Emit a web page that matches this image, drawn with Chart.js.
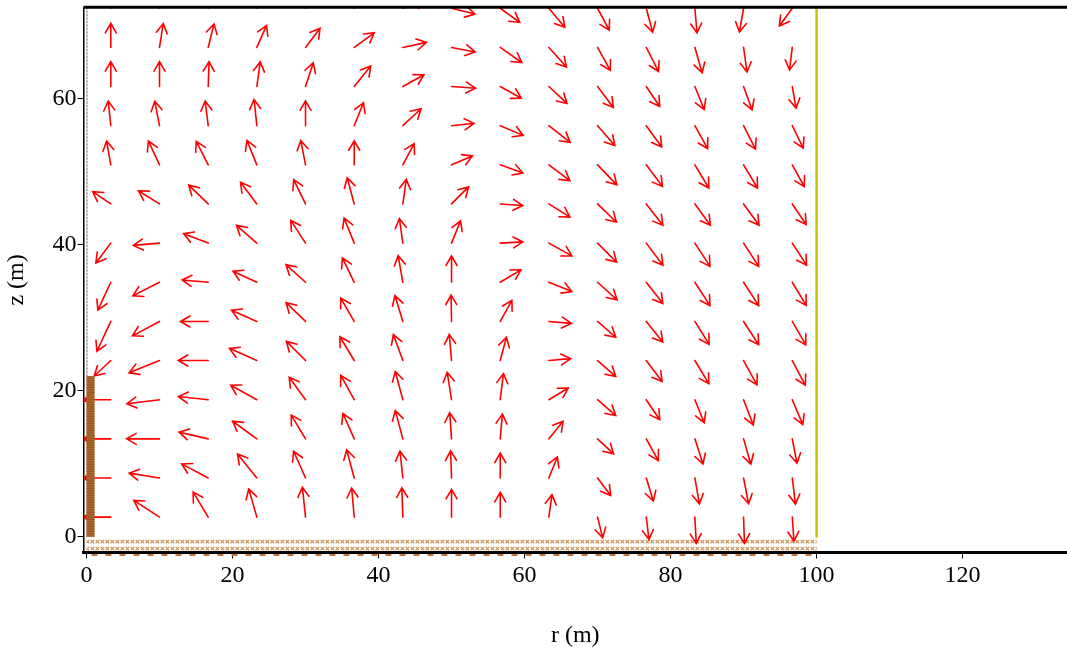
<!DOCTYPE html>
<html>
<head>
<meta charset="utf-8">
<script src="https://cdn.jsdelivr.net/npm/chart.js@4.4.1/dist/chart.umd.min.js"></script>
<style>
  html, body { margin:0; padding:0; background:#fff; }
  #wrap { width:1067px; height:650px; }
</style>
</head>
<body>
<div id="wrap"><canvas id="c"></canvas></div>
<script>
// ── grid of the field (arrow tails), metres ──
const rGrid = [3.33, 10.0, 16.67, 23.33, 30.0, 36.67, 43.33, 50.0, 56.67, 63.33, 70.0, 76.67, 83.33, 90.0, 96.67];
const zGrid = [2.68, 8.04, 13.39, 18.75, 24.11, 29.46, 34.82, 40.18, 45.54, 50.89, 56.25, 61.61, 66.96, 72.32];

// direction of each arrow (degrees, ccw from +r), one row per z, bottom row first
const dirDeg = [
  [180,147,121,106, 96, 95, 92, 90, 90, 82,284,277,273,272,274],
  [180,171,152,129,114,105, 96, 92, 90, 68,307,287,280,281,277],
  [180,180,167,144,121,114,105, 94, 85, 51,317,299,288,286,281],
  [180,187,174,151,126,119,105, 99, 83, 31,319,304,292,291,293],
  [223,202,180,156,135,121,110, 95, 75,  5,319,307,301,299,298],
  [245,208,180,156,136,120,107, 91, 61,355,319,309,302,303,300],
  [245,207,175,155,138,116,100, 90, 31,338,318,308,303,303,301],
  [233,185,159,139,123,112, 98, 68,  3,331,315,307,303,303,303],
  [146,148,136,127,116,105, 82, 45,356,328,316,308,306,306,304],
  [100,115,117,112,101, 90, 62, 23,340,323,314,307,301,301,299],
  [ 96,101, 97, 96, 90, 68, 43,  6,337,322,311,306,299,297,296],
  [ 90, 90, 88, 82, 72, 51, 29,356,331,317,307,304,292,290,280],
  [ 90, 81, 76, 66, 53, 36, 12,349,325,312,299,297,286,278,263],
  [ 88, 84, 78, 70, 58, 45, 20,346,324,310,298,285,275,260,234]
];
// drawn length of each arrow (metres), same layout
const lenM = [
  [3.8,4.2,4.0,4.0,4.1,4.0,4.0,3.8,3.4,3.1,2.9,3.1,3.6,3.6,3.3],
  [3.8,4.2,4.1,4.2,4.0,4.0,3.7,3.7,3.4,3.1,3.0,3.3,3.6,3.6,3.6],
  [3.8,4.5,4.1,4.1,3.8,3.8,4.0,3.6,3.4,3.1,3.0,3.4,3.6,3.6,3.4],
  [3.8,4.5,4.1,4.1,3.8,3.8,4.0,3.8,3.6,3.1,3.3,3.3,3.4,3.7,3.7],
  [3.1,4.5,4.1,4.1,3.7,3.8,3.8,3.6,3.3,3.0,3.3,3.6,3.7,3.8,3.8],
  [4.5,4.2,3.8,3.8,3.7,3.7,3.7,3.6,3.3,3.1,3.3,3.6,3.7,3.8,3.7],
  [4.2,4.1,3.6,3.6,3.6,3.7,3.7,3.6,3.3,3.4,3.6,3.7,3.8,3.8,3.7],
  [3.4,3.6,3.6,3.7,3.7,3.7,3.4,3.3,3.1,3.6,3.7,3.8,3.8,3.8,3.6],
  [3.0,3.4,3.7,3.7,3.7,3.7,3.4,3.3,3.1,3.4,3.6,3.7,3.6,3.6,3.4],
  [3.3,3.6,3.6,3.6,3.4,3.3,3.3,3.1,3.3,3.6,3.8,3.7,3.7,3.7,3.4],
  [3.4,3.4,3.4,3.6,3.4,3.4,3.4,3.1,3.4,3.7,3.6,3.6,3.6,3.6,3.4],
  [3.4,3.4,3.4,3.4,3.4,3.6,3.3,3.3,3.3,3.4,3.6,3.3,3.4,3.4,3.0],
  [3.3,3.3,3.3,3.3,3.3,3.4,3.3,3.3,3.6,3.6,3.6,3.7,3.6,3.4,3.1],
  [3.3,3.3,3.3,3.3,3.3,3.3,3.3,3.3,3.3,3.4,3.4,3.4,3.4,3.3,3.0]
];

const xTicks = [0, 20, 40, 60, 80, 100, 120];
const yTicks = [0, 20, 40, 60];

// geometry of the model
const wallTop = 22, wallWidth = 1.1;     // pile / wall at r = 0
const domainR = 100;                      // outer boundary
const groundDepth = -2.1;

const FONT = "'Liberation Serif', 'Times New Roman', serif";

// ground hatch pattern (small x marks)
function makeHatch() {
  const c = document.createElement('canvas');
  c.width = 5; c.height = 7;
  const g = c.getContext('2d');
  g.strokeStyle = '#c88c52'; g.lineWidth = 1.1;
  g.beginPath();
  g.moveTo(0.6,0.8); g.lineTo(4.2,4.4);
  g.moveTo(4.2,0.8); g.lineTo(0.6,4.4);
  g.stroke();
  return c;
}

function arrow(ctx, x0, y0, x1, y1) {
  const a = Math.atan2(y1 - y0, x1 - x0);
  const h = 11, s = 30 * Math.PI / 180;
  ctx.beginPath();
  ctx.moveTo(x0, y0); ctx.lineTo(x1, y1);
  ctx.moveTo(x1 - h*Math.cos(a - s), y1 - h*Math.sin(a - s));
  ctx.lineTo(x1, y1);
  ctx.lineTo(x1 - h*Math.cos(a + s), y1 - h*Math.sin(a + s));
  ctx.stroke();
}

const fieldPlugin = {
  id: 'field',
  beforeDatasetsDraw(chart) {
    const {ctx, scales:{x, y}} = chart;
    ctx.save();
    const gx0 = x.getPixelForValue(0), gx1 = x.getPixelForValue(domainR);
    const gy0 = y.getPixelForValue(-0.05), gy1 = y.getPixelForValue(groundDepth);
    ctx.fillStyle = ctx.createPattern(makeHatch(), 'repeat');
    ctx.fillRect(gx0, gy0, gx1 - gx0, gy1 - gy0);
    ctx.restore();
  },
  afterDatasetsDraw(chart) {
    const {ctx, chartArea:ca, scales:{x, y}} = chart;
    ctx.save();
    ctx.beginPath();
    ctx.rect(ca.left, ca.top, ca.right - ca.left, ca.bottom - ca.top);
    ctx.clip();
    // vectors
    ctx.strokeStyle = '#ff0000';
    ctx.lineWidth = 1.6;
    ctx.lineCap = 'round';
    zGrid.forEach((z, j) => {
      rGrid.forEach((r, i) => {
        const t = dirDeg[j][i] * Math.PI / 180, L = lenM[j][i];
        arrow(ctx,
          x.getPixelForValue(r), y.getPixelForValue(z),
          x.getPixelForValue(r + L*Math.cos(t)), y.getPixelForValue(z + L*Math.sin(t)));
      });
    });
    // wall
    const wx0 = x.getPixelForValue(0), wx1 = x.getPixelForValue(wallWidth);
    const wy0 = y.getPixelForValue(wallTop), wy1 = y.getPixelForValue(0);
    ctx.fillStyle = '#ad6a2e';
    ctx.fillRect(wx0, wy0, wx1 - wx0, wy1 - wy0);
    ctx.strokeStyle = '#7f4a1c'; ctx.lineWidth = 0.6;
    for (let py = wy0 + 2; py < wy1; py += 2.4) {
      ctx.beginPath(); ctx.moveTo(wx0, py); ctx.lineTo(wx1, py); ctx.stroke();
    }
    // symmetry axis (dotted, above the wall)
    ctx.strokeStyle = '#a0a0a0'; ctx.lineWidth = 1.5; ctx.setLineDash([1.5, 2]);
    ctx.beginPath(); ctx.moveTo(wx0 + 0.5, ca.top); ctx.lineTo(wx0 + 0.5, wy0); ctx.stroke();
    // outer boundary
    const bx = x.getPixelForValue(domainR);
    ctx.strokeStyle = '#c8c400'; ctx.lineWidth = 2.5; ctx.setLineDash([6, 1.5]);
    ctx.beginPath(); ctx.moveTo(bx, ca.top); ctx.lineTo(bx, y.getPixelForValue(0)); ctx.stroke();
    ctx.restore();
    // brown dashes under the bottom axis
    ctx.save();
    ctx.strokeStyle = '#c47a3a'; ctx.lineWidth = 2; ctx.setLineDash([6, 8]);
    ctx.beginPath(); ctx.moveTo(wx0 + 5, ca.bottom + 2.5); ctx.lineTo(bx, ca.bottom + 2.5); ctx.stroke();
    ctx.restore();
    // top frame line
    ctx.save();
    ctx.strokeStyle = '#000'; ctx.lineWidth = 3;
    ctx.beginPath(); ctx.moveTo(ca.left, ca.top); ctx.lineTo(ca.right, ca.top); ctx.stroke();
    ctx.restore();
  }
};

const tails = [];
zGrid.forEach(z => rGrid.forEach(r => tails.push({x: r, y: z})));

new Chart(document.getElementById('c'), {
  type: 'scatter',
  data: { datasets: [{ data: tails, pointRadius: 0, showLine: false }] },
  options: {
    responsive: true, maintainAspectRatio: false, animation: false,
    layout: { padding: { top: 7.3, right: 0, left: 0, bottom: 0 } },
    plugins: { legend: { display: false }, tooltip: { enabled: false } },
    scales: {
      x: {
        type: 'linear', min: -0.41, max: 134.3,
        afterBuildTicks: s => { s.ticks = xTicks.map(v => ({ value: v })); },
        afterFit: s => { s.height = 97.5; s.paddingLeft = 0; s.paddingRight = 0; },
        ticks: { color: '#000', font: { family: FONT, size: 24 }, padding: 3, maxRotation: 0 },
        grid: { drawOnChartArea: false, drawTicks: true, tickLength: 6, color: '#000', lineWidth: 1 },
        border: { display: true, color: '#000', width: 3 },
        title: { display: true, text: 'r (m)', color: '#000', font: { family: FONT, size: 24 }, padding: { top: 0, bottom: 0 } }
      },
      y: {
        type: 'linear', min: -2.16, max: 72.45,
        afterBuildTicks: s => { s.ticks = yTicks.map(v => ({ value: v })); },
        afterFit: s => { s.width = 83.5; s.paddingTop = 0; s.paddingBottom = 0; },
        ticks: { color: '#000', font: { family: FONT, size: 24 }, padding: 1 },
        grid: { drawOnChartArea: false, drawTicks: true, tickLength: 6, color: '#000', lineWidth: 1 },
        border: { display: true, color: '#000', width: 1.5 },
        title: { display: true, text: 'z (m)', color: '#000', font: { family: FONT, size: 24 }, padding: { top: 2, bottom: 0 } }
      }
    }
  },
  plugins: [fieldPlugin]
});
</script>
</body>
</html>
